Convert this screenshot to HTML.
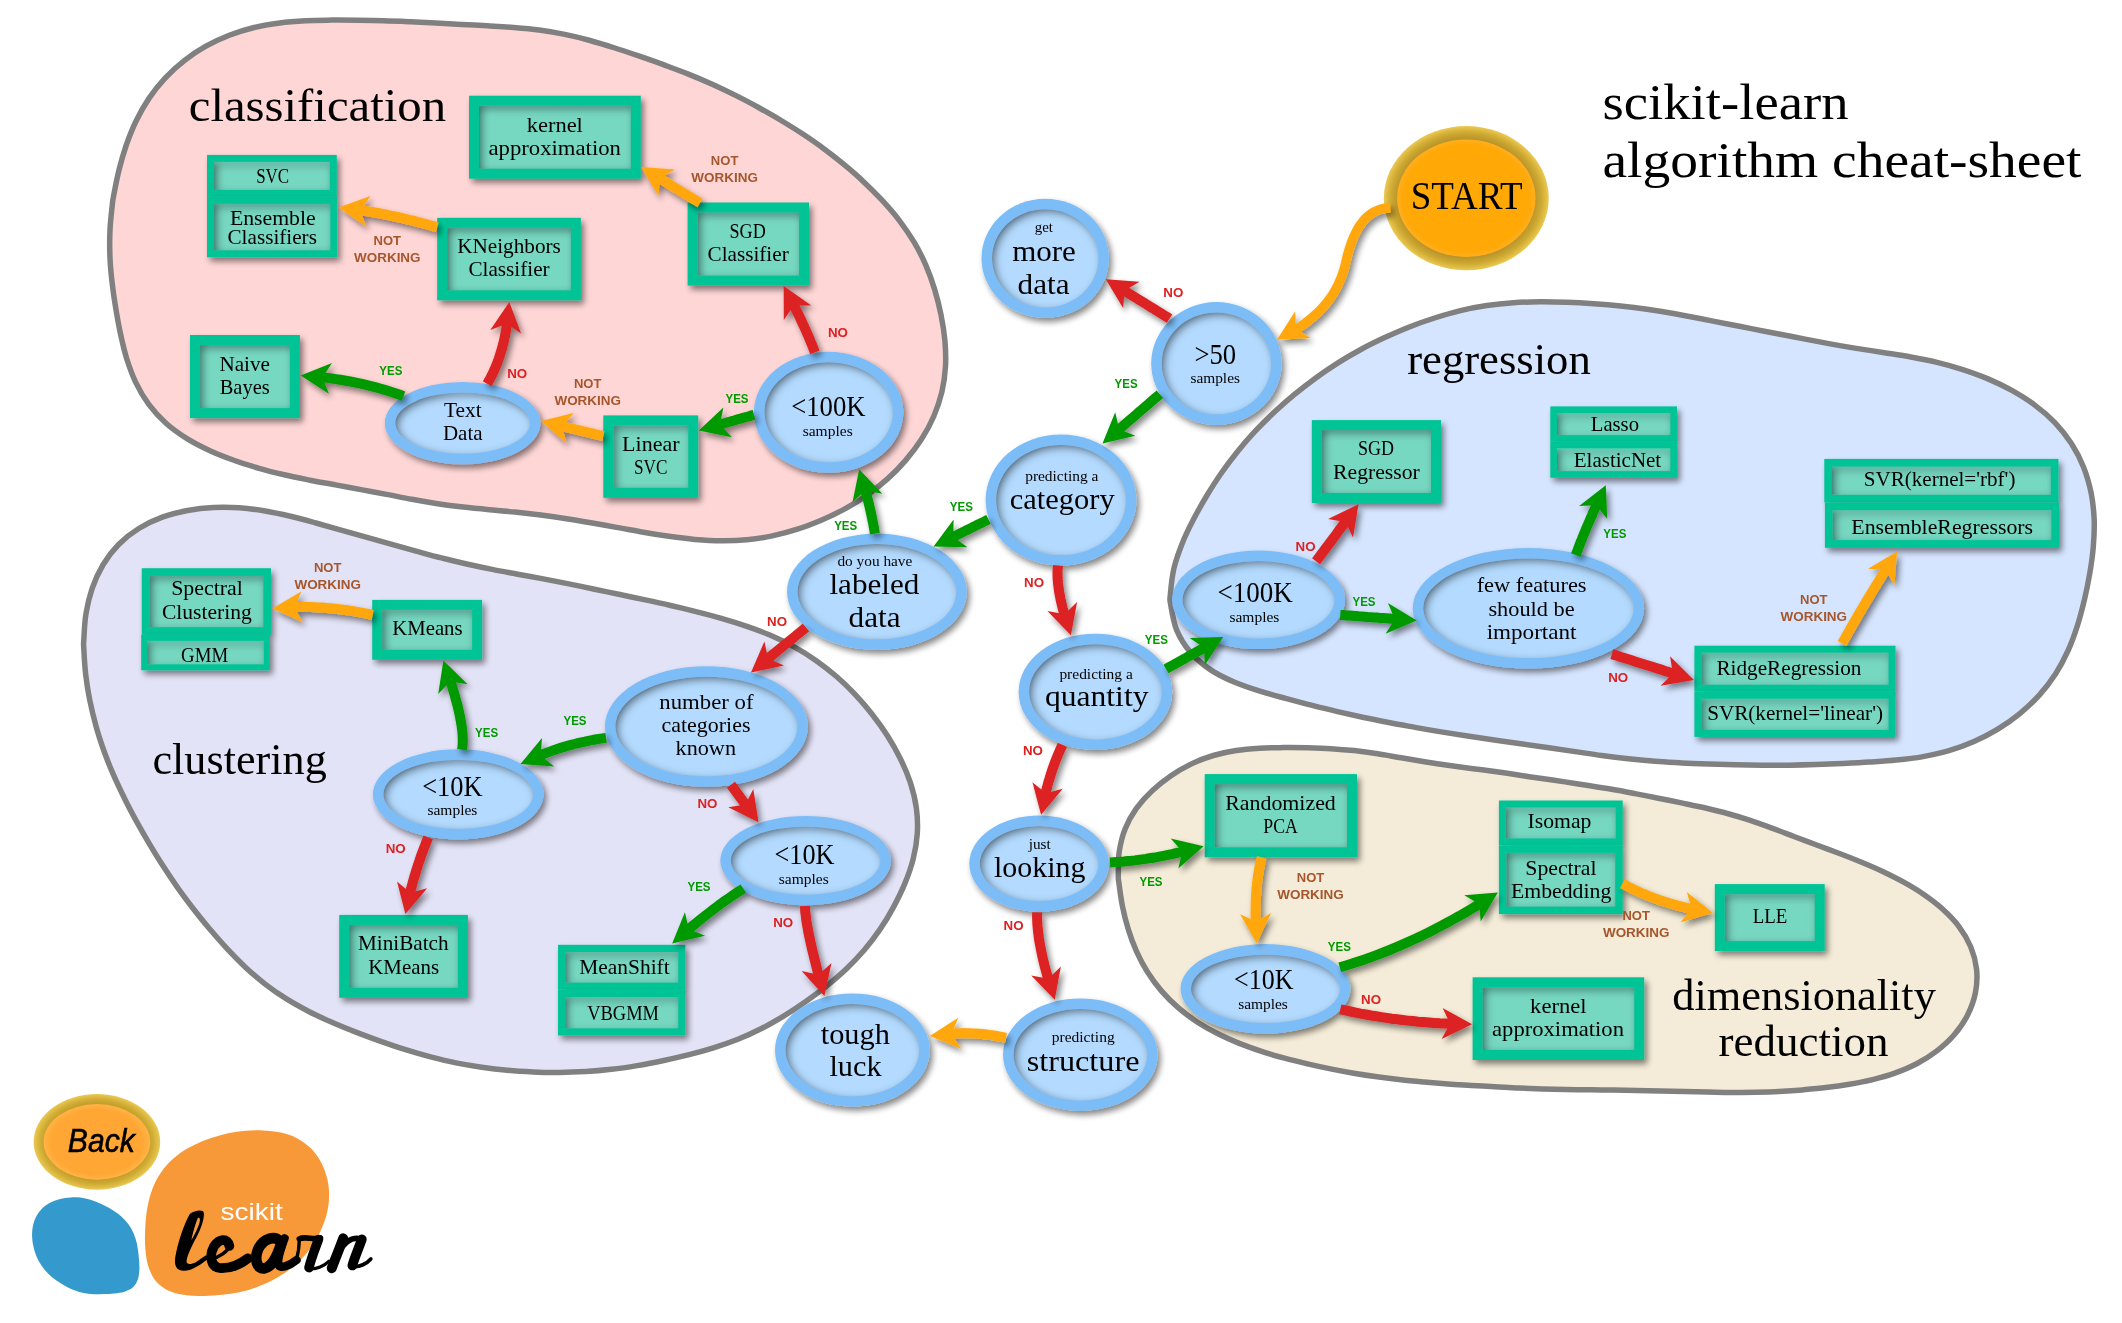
<!DOCTYPE html>
<html><head><meta charset="utf-8"><title>scikit-learn algorithm cheat-sheet</title>
<style>html,body{margin:0;padding:0;background:#fff}svg{display:block}text{white-space:pre}</style></head>
<body><svg width="2122" height="1323" viewBox="0 0 2122 1323">
<defs>
<filter id="ds" x="-20%" y="-20%" width="150%" height="150%"><feGaussianBlur in="SourceAlpha" stdDeviation="3.2"/><feOffset dx="3" dy="3.5" result="o"/><feComponentTransfer><feFuncA type="linear" slope="0.48"/></feComponentTransfer><feMerge><feMergeNode/><feMergeNode in="SourceGraphic"/></feMerge></filter>
<filter id="is" x="-10%" y="-10%" width="120%" height="120%"><feComponentTransfer in="SourceAlpha"><feFuncA type="table" tableValues="1 0"/></feComponentTransfer><feGaussianBlur stdDeviation="4.2"/><feOffset dx="2.5" dy="2.5" result="sh"/><feFlood flood-color="#001020" flood-opacity="0.85"/><feComposite in2="sh" operator="in"/><feComposite in2="SourceAlpha" operator="in" result="inner"/><feMerge><feMergeNode in="SourceGraphic"/><feMergeNode in="inner"/></feMerge></filter>
<radialGradient id="gg" cx="50%" cy="50%" r="50%"><stop offset="0.82" stop-color="#b8942a"/><stop offset="0.9" stop-color="#cba630"/><stop offset="0.97" stop-color="#e2be45"/><stop offset="1" stop-color="#ecca58"/></radialGradient>
<radialGradient id="og" cx="50%" cy="50%" r="50%"><stop offset="0" stop-color="#ffa806"/><stop offset="0.9" stop-color="#ffa806"/><stop offset="1" stop-color="#ffae1e"/></radialGradient>
<radialGradient id="gg2" cx="50%" cy="50%" r="50%"><stop offset="0.78" stop-color="#bf9a2c"/><stop offset="0.88" stop-color="#cfab33"/><stop offset="0.97" stop-color="#e3c048"/><stop offset="1" stop-color="#ecca58"/></radialGradient>
<radialGradient id="og2" cx="50%" cy="50%" r="50%"><stop offset="0" stop-color="#ffa634"/><stop offset="0.85" stop-color="#ffa634"/><stop offset="1" stop-color="#ffb445"/></radialGradient>
</defs>
<path d="M112.4,204.0 C111.8,209.7 110.4,221.2 110.0,229.8 C109.6,238.4 109.6,247.2 109.9,255.8 C110.2,264.4 111.0,273.1 112.0,281.7 C113.0,290.3 114.2,298.9 115.6,307.4 C117.0,315.9 118.5,324.5 120.3,332.9 C122.1,341.3 124.0,349.8 126.5,358.0 C129.1,366.2 131.9,374.4 135.6,382.1 C139.3,389.8 143.7,397.5 148.8,404.4 C153.9,411.3 159.9,417.8 166.3,423.5 C172.7,429.2 180.0,434.3 187.4,438.9 C194.8,443.5 202.7,447.4 210.5,451.0 C218.3,454.6 226.4,457.6 234.5,460.5 C242.6,463.4 250.8,465.9 259.1,468.3 C267.4,470.7 275.8,472.8 284.3,474.8 C292.8,476.8 301.4,478.5 309.9,480.2 C318.4,481.9 327.0,483.3 335.5,484.9 C344.0,486.5 352.5,488.0 361.0,489.6 C369.5,491.2 377.9,492.8 386.4,494.4 C394.9,496.0 403.4,497.8 411.9,499.3 C420.4,500.9 429.0,502.4 437.6,503.7 C446.2,505.0 454.9,506.1 463.5,507.1 C472.1,508.1 480.7,508.9 489.3,509.7 C497.9,510.5 506.4,511.2 515.0,512.1 C523.6,513.0 532.2,514.0 540.8,515.1 C549.4,516.2 558.0,517.4 566.6,518.7 C575.2,520.0 583.8,521.5 592.3,523.0 C600.8,524.5 609.4,526.1 617.9,527.6 C626.4,529.1 634.8,530.8 643.3,532.2 C651.8,533.7 660.4,535.1 669.0,536.3 C677.6,537.5 686.2,538.6 694.9,539.4 C703.5,540.1 712.2,540.7 720.9,540.8 C729.5,540.9 738.2,540.6 746.8,539.8 C755.4,539.0 763.9,537.7 772.3,535.9 C780.7,534.1 789.1,531.9 797.4,529.2 C805.6,526.6 813.8,523.4 821.8,520.0 C829.8,516.6 837.7,512.8 845.3,508.6 C852.9,504.4 860.3,499.8 867.3,494.9 C874.3,489.9 881.1,484.6 887.5,478.9 C893.9,473.1 900.0,467.0 905.6,460.4 C911.2,453.8 916.6,446.8 921.3,439.5 C926.0,432.2 930.3,424.4 933.7,416.5 C937.1,408.6 939.9,400.2 941.9,391.9 C943.9,383.5 945.0,375.0 945.5,366.4 C946.0,357.8 945.6,349.1 944.9,340.5 C944.1,331.9 942.7,323.2 941.0,314.7 C939.3,306.2 937.1,297.7 934.6,289.4 C932.1,281.1 929.2,273.0 925.8,265.1 C922.4,257.2 918.5,249.6 914.1,242.2 C909.7,234.8 904.8,227.7 899.6,220.8 C894.4,213.9 888.6,207.3 882.7,200.9 C876.8,194.5 870.6,188.4 864.3,182.4 C858.0,176.4 851.4,170.7 844.8,165.2 C838.2,159.7 831.4,154.3 824.5,149.2 C817.6,144.0 810.4,139.1 803.2,134.3 C796.0,129.5 788.6,125.0 781.2,120.5 C773.8,116.0 766.2,111.7 758.6,107.5 C751.0,103.3 743.3,99.3 735.6,95.4 C727.9,91.5 720.1,87.8 712.2,84.2 C704.3,80.7 696.3,77.3 688.3,74.1 C680.3,70.9 672.1,67.9 664.0,64.9 C655.9,61.9 647.6,59.0 639.4,56.2 C631.2,53.4 623.0,50.6 614.8,48.0 C606.6,45.4 598.3,42.8 590.0,40.5 C581.7,38.2 573.3,36.1 564.8,34.4 C556.3,32.6 547.8,31.2 539.2,30.0 C530.6,28.8 521.9,28.1 513.3,27.4 C504.6,26.7 495.9,26.3 487.3,25.8 C478.7,25.3 470.0,24.9 461.4,24.4 C452.8,23.9 444.1,23.4 435.5,23.0 C426.9,22.6 418.2,22.1 409.5,21.7 C400.8,21.3 392.2,20.9 383.5,20.7 C374.8,20.4 366.1,20.3 357.5,20.2 C348.9,20.1 340.2,20.0 331.6,20.1 C323.0,20.2 314.4,20.2 305.7,20.7 C297.0,21.2 288.3,21.8 279.7,22.9 C271.1,24.0 262.5,25.4 254.1,27.5 C245.7,29.6 237.3,32.1 229.3,35.2 C221.3,38.3 213.4,42.0 205.9,46.2 C198.4,50.4 191.1,55.3 184.3,60.6 C177.5,65.9 171.0,71.8 165.1,78.1 C159.2,84.4 153.8,91.2 149.0,98.4 C144.2,105.6 139.9,113.2 136.1,121.0 C132.3,128.8 129.2,136.8 126.3,145.0 C123.5,153.2 121.1,161.6 119.0,170.0 C116.9,178.4 114.8,189.7 113.7,195.4 C112.6,201.1 113.0,198.3 112.4,204.0 Z" fill="#ffd6d6" stroke="#808080" stroke-width="5.5" stroke-linejoin="round"/>
<path d="M83.8,640.1 C84.2,634.3 84.5,622.7 85.9,614.1 C87.3,605.5 89.3,596.9 92.1,588.7 C94.9,580.5 98.5,572.4 102.9,565.0 C107.3,557.6 112.6,550.6 118.6,544.5 C124.6,538.4 131.5,533.0 138.8,528.5 C146.1,524.0 154.2,520.2 162.3,517.2 C170.4,514.2 179.1,512.1 187.6,510.5 C196.1,508.9 205.0,507.9 213.6,507.5 C222.2,507.1 230.8,507.2 239.4,507.8 C248.0,508.4 256.6,509.6 265.1,511.0 C273.6,512.4 282.0,514.3 290.5,516.3 C299.0,518.3 307.5,520.7 315.9,523.0 C324.3,525.3 332.7,527.7 341.1,530.1 C349.5,532.5 357.8,534.9 366.1,537.2 C374.4,539.5 382.7,541.8 391.0,544.1 C399.3,546.4 407.6,548.8 416.0,551.1 C424.4,553.4 432.9,555.8 441.3,557.9 C449.8,560.0 458.2,562.1 466.7,564.0 C475.2,565.9 483.7,567.7 492.2,569.4 C500.7,571.1 509.1,572.6 517.6,574.2 C526.1,575.8 534.7,577.3 543.2,578.9 C551.7,580.5 560.2,582.2 568.8,583.9 C577.3,585.6 586.0,587.4 594.5,589.2 C603.0,591.0 611.4,592.7 619.9,594.5 C628.4,596.3 636.8,598.1 645.3,599.9 C653.8,601.7 662.1,603.5 670.6,605.5 C679.1,607.5 687.5,609.5 696.0,611.6 C704.5,613.7 712.9,615.9 721.3,618.3 C729.7,620.7 738.0,623.3 746.2,626.1 C754.4,628.9 762.5,631.9 770.4,635.3 C778.3,638.7 786.1,642.4 793.7,646.6 C801.3,650.8 808.8,655.4 815.9,660.4 C823.0,665.4 829.9,670.8 836.5,676.5 C843.1,682.2 849.4,688.3 855.3,694.6 C861.2,700.9 866.8,707.4 872.1,714.2 C877.4,721.0 882.5,728.0 887.1,735.3 C891.8,742.6 896.1,750.2 900.0,758.0 C903.9,765.8 907.5,773.9 910.2,782.2 C912.9,790.5 915.1,799.1 916.3,807.6 C917.5,816.1 917.8,824.9 917.3,833.4 C916.8,841.9 915.3,850.5 913.2,858.8 C911.1,867.1 908.2,875.3 904.9,883.4 C901.6,891.5 897.6,899.4 893.5,907.1 C889.4,914.8 884.9,922.2 880.0,929.4 C875.1,936.5 869.9,943.5 864.3,950.0 C858.7,956.5 852.8,962.7 846.5,968.7 C840.2,974.7 833.6,980.3 826.8,985.8 C820.0,991.2 812.9,996.4 805.8,1001.4 C798.7,1006.4 791.4,1011.3 784.0,1015.8 C776.6,1020.3 769.2,1024.6 761.5,1028.5 C753.8,1032.4 745.9,1036.1 737.9,1039.3 C729.9,1042.5 721.7,1045.3 713.4,1047.9 C705.1,1050.5 696.7,1052.8 688.2,1054.9 C679.8,1057.0 671.2,1058.9 662.7,1060.7 C654.2,1062.5 645.7,1064.2 637.2,1065.6 C628.7,1067.0 620.1,1068.3 611.5,1069.3 C602.9,1070.3 594.3,1071.1 585.6,1071.6 C576.9,1072.1 568.2,1072.4 559.5,1072.4 C550.8,1072.5 542.1,1072.3 533.4,1071.9 C524.7,1071.5 516.0,1071.0 507.4,1070.2 C498.8,1069.4 490.3,1068.4 481.7,1067.2 C473.1,1066.0 464.5,1064.6 456.0,1062.9 C447.5,1061.2 439.0,1059.1 430.6,1056.9 C422.2,1054.7 413.8,1052.3 405.5,1049.7 C397.2,1047.1 389.0,1044.3 380.8,1041.4 C372.6,1038.5 364.6,1035.5 356.5,1032.4 C348.4,1029.3 340.3,1026.1 332.4,1022.6 C324.4,1019.1 316.5,1015.5 308.8,1011.5 C301.1,1007.5 293.4,1003.3 286.1,998.7 C278.8,994.1 271.6,989.1 264.8,983.8 C258.0,978.5 251.4,972.8 245.1,966.9 C238.8,961.0 232.7,954.8 226.8,948.4 C220.9,942.0 215.1,935.4 209.5,928.8 C203.9,922.1 198.4,915.4 193.1,908.5 C187.8,901.6 182.6,894.7 177.6,887.6 C172.6,880.5 167.8,873.4 163.1,866.1 C158.4,858.8 153.8,851.4 149.4,843.9 C145.0,836.4 140.7,828.9 136.5,821.3 C132.3,813.7 128.2,806.0 124.4,798.2 C120.6,790.4 116.8,782.7 113.4,774.7 C110.0,766.8 106.7,758.7 103.8,750.5 C100.9,742.3 98.2,734.1 95.9,725.7 C93.6,717.3 91.5,708.8 89.8,700.3 C88.1,691.8 86.7,683.2 85.7,674.6 C84.7,666.0 84.1,654.5 83.8,648.7 C83.5,643.0 83.4,645.9 83.8,640.1 Z" fill="#e3e3f7" stroke="#808080" stroke-width="5.5" stroke-linejoin="round"/>
<path d="M1170.3,595.2 C1170.8,589.3 1171.9,577.2 1173.9,568.5 C1175.9,559.8 1179.1,551.2 1182.4,542.9 C1185.7,534.6 1189.7,526.7 1193.8,518.8 C1197.9,510.9 1202.3,503.1 1206.9,495.5 C1211.5,487.9 1216.3,480.3 1221.4,473.0 C1226.5,465.7 1232.0,458.5 1237.6,451.5 C1243.2,444.5 1249.1,437.7 1255.2,431.2 C1261.3,424.7 1267.7,418.4 1274.2,412.3 C1280.7,406.2 1287.3,400.4 1294.2,394.7 C1301.1,389.0 1308.2,383.5 1315.4,378.2 C1322.6,372.9 1330.0,367.9 1337.6,363.1 C1345.2,358.3 1352.9,353.8 1360.8,349.5 C1368.7,345.2 1376.6,341.4 1384.7,337.6 C1392.8,333.9 1401.0,330.3 1409.3,327.0 C1417.6,323.7 1426.1,320.7 1434.6,318.0 C1443.1,315.3 1451.7,312.7 1460.4,310.6 C1469.1,308.5 1478.0,306.8 1486.8,305.5 C1495.6,304.2 1504.5,303.3 1513.4,302.7 C1522.3,302.1 1531.2,301.9 1540.1,301.8 C1549.0,301.7 1558.0,302.0 1566.9,302.3 C1575.9,302.6 1584.9,303.1 1593.8,303.7 C1602.7,304.3 1611.6,305.0 1620.5,305.9 C1629.4,306.8 1638.3,307.9 1647.1,309.2 C1655.9,310.5 1664.7,311.9 1673.5,313.5 C1682.3,315.1 1691.0,316.8 1699.8,318.5 C1708.6,320.2 1717.4,322.0 1726.2,323.7 C1735.0,325.4 1743.7,327.2 1752.5,328.9 C1761.3,330.6 1770.0,332.3 1778.8,334.0 C1787.6,335.7 1796.3,337.4 1805.1,339.1 C1813.9,340.8 1822.6,342.5 1831.4,344.1 C1840.2,345.7 1849.1,347.2 1857.9,348.6 C1866.7,350.0 1875.6,351.3 1884.4,352.7 C1893.2,354.1 1902.1,355.4 1910.9,357.0 C1919.7,358.6 1928.4,360.3 1937.1,362.4 C1945.8,364.5 1954.3,366.9 1962.8,369.6 C1971.3,372.4 1979.8,375.4 1988.0,378.9 C1996.2,382.4 2004.5,386.3 2012.3,390.7 C2020.1,395.1 2027.7,399.8 2034.8,405.1 C2041.9,410.4 2048.8,416.2 2054.9,422.6 C2061.0,429.0 2066.6,436.1 2071.4,443.6 C2076.2,451.1 2080.4,459.1 2083.7,467.4 C2087.0,475.7 2089.4,484.5 2091.2,493.3 C2092.9,502.1 2093.8,511.1 2094.2,520.0 C2094.5,528.9 2094.0,537.8 2093.3,546.6 C2092.6,555.5 2091.3,564.3 2089.8,573.1 C2088.3,581.9 2086.6,590.7 2084.5,599.4 C2082.4,608.1 2080.2,616.9 2077.5,625.4 C2074.8,633.9 2071.8,642.4 2068.1,650.5 C2064.4,658.6 2060.3,666.5 2055.5,673.9 C2050.7,681.3 2045.2,688.5 2039.3,695.1 C2033.3,701.7 2026.7,707.9 2019.8,713.6 C2012.9,719.3 2005.4,724.5 1997.8,729.2 C1990.2,733.9 1982.1,738.0 1974.0,741.6 C1965.9,745.2 1957.5,748.2 1949.0,750.7 C1940.5,753.2 1931.8,755.0 1923.0,756.6 C1914.2,758.2 1905.2,759.2 1896.3,760.1 C1887.4,761.0 1878.4,761.5 1869.4,762.1 C1860.5,762.7 1851.5,763.1 1842.6,763.5 C1833.7,763.9 1824.9,764.3 1816.0,764.6 C1807.1,764.9 1798.1,765.1 1789.2,765.2 C1780.3,765.3 1771.4,765.3 1762.4,765.2 C1753.4,765.1 1744.4,764.9 1735.4,764.7 C1726.4,764.5 1717.5,764.3 1708.6,764.0 C1699.7,763.7 1690.8,763.4 1681.9,762.9 C1673.0,762.4 1664.1,762.0 1655.2,761.3 C1646.3,760.6 1637.4,759.8 1628.5,758.8 C1619.6,757.8 1610.7,756.7 1601.8,755.5 C1592.9,754.3 1584.1,752.9 1575.3,751.6 C1566.5,750.3 1557.7,749.0 1548.9,747.7 C1540.1,746.4 1531.3,745.2 1522.5,744.0 C1513.7,742.8 1504.8,741.6 1495.9,740.3 C1487.0,739.0 1478.1,737.7 1469.2,736.3 C1460.3,734.9 1451.5,733.5 1442.7,732.1 C1433.9,730.7 1425.2,729.2 1416.4,727.6 C1407.6,726.0 1398.9,724.5 1390.1,722.8 C1381.3,721.1 1372.6,719.4 1363.8,717.5 C1355.0,715.6 1346.2,713.6 1337.4,711.6 C1328.7,709.6 1319.9,707.4 1311.3,705.2 C1302.7,703.0 1294.1,700.7 1285.6,698.4 C1277.0,696.1 1268.5,693.9 1260.0,691.2 C1251.5,688.5 1242.9,685.8 1234.7,682.3 C1226.5,678.8 1218.1,674.9 1210.7,669.9 C1203.3,664.9 1196.2,659.1 1190.5,652.4 C1184.8,645.7 1179.9,637.9 1176.6,629.9 C1173.3,621.9 1171.6,609.9 1170.6,604.1 C1169.5,598.3 1169.8,601.1 1170.3,595.2 Z" fill="#d6e5ff" stroke="#808080" stroke-width="5.5" stroke-linejoin="round"/>
<path d="M1118.3,874.8 C1118.4,869.5 1118.1,858.9 1119.3,851.2 C1120.5,843.5 1122.3,835.8 1125.2,828.7 C1128.1,821.6 1131.9,814.7 1136.4,808.4 C1140.9,802.1 1146.4,796.1 1152.2,790.7 C1158.0,785.3 1164.5,780.3 1171.0,775.8 C1177.5,771.3 1184.5,767.3 1191.5,763.9 C1198.5,760.5 1205.9,757.7 1213.3,755.5 C1220.7,753.3 1228.4,751.7 1236.1,750.5 C1243.8,749.3 1251.8,748.7 1259.7,748.2 C1267.6,747.7 1275.7,747.7 1283.6,747.6 C1291.5,747.5 1299.4,747.6 1307.3,747.8 C1315.2,748.0 1323.0,748.2 1330.8,748.7 C1338.6,749.2 1346.4,749.8 1354.2,750.6 C1362.0,751.5 1369.9,752.6 1377.7,753.8 C1385.5,755.0 1393.4,756.5 1401.2,757.8 C1409.0,759.1 1416.8,760.5 1424.6,761.8 C1432.4,763.0 1440.1,764.2 1447.9,765.3 C1455.7,766.4 1463.4,767.4 1471.2,768.4 C1479.0,769.4 1486.9,770.4 1494.7,771.5 C1502.5,772.6 1510.4,773.8 1518.2,775.0 C1526.0,776.2 1533.9,777.4 1541.7,778.5 C1549.5,779.6 1557.2,780.7 1565.0,781.9 C1572.8,783.1 1580.5,784.3 1588.3,785.5 C1596.1,786.7 1603.9,787.9 1611.7,789.3 C1619.5,790.6 1627.2,792.1 1635.0,793.6 C1642.8,795.1 1650.5,796.7 1658.3,798.2 C1666.0,799.8 1673.8,801.3 1681.5,802.9 C1689.2,804.5 1696.8,806.0 1704.5,807.8 C1712.2,809.6 1719.8,811.4 1727.4,813.5 C1735.0,815.6 1742.7,817.9 1750.2,820.4 C1757.7,822.9 1765.1,825.6 1772.5,828.3 C1779.9,831.0 1787.2,833.9 1794.6,836.7 C1802.0,839.5 1809.3,842.2 1816.7,845.0 C1824.1,847.8 1831.4,850.5 1838.8,853.3 C1846.2,856.1 1853.6,859.0 1860.9,862.0 C1868.2,865.0 1875.6,868.1 1882.7,871.5 C1889.8,874.9 1896.9,878.4 1903.7,882.2 C1910.5,886.0 1917.3,890.0 1923.8,894.5 C1930.3,899.0 1936.7,903.7 1942.5,909.0 C1948.3,914.3 1954.1,920.0 1958.8,926.3 C1963.5,932.6 1967.7,939.5 1970.7,946.7 C1973.7,953.9 1975.8,961.7 1976.6,969.4 C1977.4,977.1 1976.9,985.3 1975.4,992.9 C1973.9,1000.5 1971.0,1008.2 1967.5,1015.2 C1964.0,1022.2 1959.3,1028.8 1954.2,1034.8 C1949.1,1040.8 1943.1,1046.1 1936.9,1050.9 C1930.7,1055.7 1924.0,1059.8 1917.1,1063.5 C1910.2,1067.2 1902.8,1070.2 1895.4,1072.9 C1888.0,1075.6 1880.3,1077.7 1872.6,1079.6 C1864.9,1081.5 1857.2,1082.9 1849.4,1084.2 C1841.6,1085.5 1833.8,1086.6 1826.0,1087.6 C1818.2,1088.5 1810.3,1089.2 1802.5,1089.9 C1794.7,1090.6 1786.8,1091.1 1778.9,1091.5 C1771.0,1091.9 1763.1,1092.1 1755.2,1092.3 C1747.3,1092.5 1739.4,1092.4 1731.5,1092.4 C1723.6,1092.4 1715.8,1092.2 1707.9,1092.1 C1700.0,1091.9 1692.2,1091.7 1684.3,1091.5 C1676.4,1091.3 1668.5,1091.2 1660.6,1091.0 C1652.7,1090.8 1644.8,1090.7 1636.9,1090.5 C1629.0,1090.3 1621.1,1090.2 1613.2,1090.1 C1605.3,1090.0 1597.5,1089.9 1589.6,1089.8 C1581.7,1089.7 1573.9,1089.7 1566.0,1089.5 C1558.1,1089.3 1550.3,1089.1 1542.4,1088.9 C1534.5,1088.7 1526.5,1088.4 1518.6,1088.1 C1510.7,1087.8 1502.8,1087.2 1494.9,1086.8 C1487.0,1086.3 1479.2,1085.9 1471.3,1085.4 C1463.4,1084.9 1455.6,1084.5 1447.8,1083.9 C1440.0,1083.4 1432.1,1082.8 1424.3,1082.1 C1416.5,1081.4 1408.6,1080.7 1400.7,1079.8 C1392.8,1078.9 1384.9,1077.9 1377.1,1076.8 C1369.3,1075.7 1361.5,1074.5 1353.7,1073.2 C1346.0,1071.9 1338.3,1070.5 1330.6,1068.9 C1322.9,1067.4 1315.2,1065.7 1307.5,1063.9 C1299.8,1062.1 1292.2,1060.3 1284.5,1058.2 C1276.8,1056.1 1269.1,1053.9 1261.6,1051.4 C1254.1,1048.9 1246.6,1046.3 1239.3,1043.4 C1232.0,1040.5 1224.9,1037.3 1217.9,1033.8 C1210.9,1030.3 1204.1,1026.5 1197.5,1022.2 C1190.9,1017.9 1184.5,1013.1 1178.5,1007.9 C1172.5,1002.7 1166.8,997.1 1161.6,991.1 C1156.4,985.1 1151.7,978.6 1147.5,972.0 C1143.3,965.4 1139.7,958.4 1136.5,951.3 C1133.3,944.2 1130.6,936.9 1128.3,929.4 C1126.0,921.9 1124.1,914.3 1122.5,906.5 C1120.9,898.7 1119.6,888.1 1118.9,882.8 C1118.2,877.5 1118.2,880.1 1118.3,874.8 Z" fill="#f4ecd8" stroke="#808080" stroke-width="5.5" stroke-linejoin="round"/>
<rect x="469" y="95.7" width="171.8" height="83.0" fill="#00c496" filter="url(#ds)"/><rect x="479" y="105.7" width="151.8" height="63.0" fill="#77d8c1" filter="url(#is)"/>
<rect x="207" y="154.9" width="129.8" height="42.0" fill="#00c496" filter="url(#ds)"/><rect x="214" y="161.9" width="115.80000000000001" height="28.0" fill="#77d8c1" filter="url(#is)"/>
<rect x="207" y="196.9" width="130.3" height="60.4" fill="#00c496" filter="url(#ds)"/><rect x="214" y="203.9" width="116.30000000000001" height="46.4" fill="#77d8c1" filter="url(#is)"/>
<rect x="437.2" y="217.8" width="143.7" height="82.5" fill="#00c496" filter="url(#ds)"/><rect x="447.2" y="227.8" width="123.69999999999999" height="62.5" fill="#77d8c1" filter="url(#is)"/>
<rect x="687.6" y="202.5" width="121.4" height="83.1" fill="#00c496" filter="url(#ds)"/><rect x="697.6" y="212.5" width="101.4" height="63.099999999999994" fill="#77d8c1" filter="url(#is)"/>
<rect x="190" y="335" width="109.9" height="83.1" fill="#00c496" filter="url(#ds)"/><rect x="200" y="345" width="89.9" height="63.099999999999994" fill="#77d8c1" filter="url(#is)"/>
<rect x="603.3" y="415.4" width="94.9" height="82.4" fill="#00c496" filter="url(#ds)"/><rect x="613.3" y="425.4" width="74.9" height="62.400000000000006" fill="#77d8c1" filter="url(#is)"/>
<ellipse cx="462.6" cy="423.1" rx="77.8" ry="41.2" fill="#7dbdf7" filter="url(#ds)"/><ellipse cx="462.6" cy="423.1" rx="67.3" ry="30.700000000000003" fill="#b4dbff" filter="url(#is)"/>
<ellipse cx="828.6" cy="412.3" rx="74.7" ry="60.5" fill="#7dbdf7" filter="url(#ds)"/><ellipse cx="828.6" cy="412.3" rx="64.2" ry="50.0" fill="#b4dbff" filter="url(#is)"/>
<ellipse cx="876.9" cy="591.7" rx="89.9" ry="58.1" fill="#7dbdf7" filter="url(#ds)"/><ellipse cx="876.9" cy="591.7" rx="79.4" ry="47.6" fill="#b4dbff" filter="url(#is)"/>
<ellipse cx="1045.2" cy="258.3" rx="63.7" ry="59.6" fill="#7dbdf7" filter="url(#ds)"/><ellipse cx="1045.2" cy="258.3" rx="53.2" ry="49.1" fill="#b4dbff" filter="url(#is)"/>
<ellipse cx="1216.4" cy="363.4" rx="65.2" ry="61.4" fill="#7dbdf7" filter="url(#ds)"/><ellipse cx="1216.4" cy="363.4" rx="54.7" ry="50.9" fill="#b4dbff" filter="url(#is)"/>
<ellipse cx="1061" cy="500" rx="75.4" ry="65.6" fill="#7dbdf7" filter="url(#ds)"/><ellipse cx="1061" cy="500" rx="64.9" ry="55.099999999999994" fill="#b4dbff" filter="url(#is)"/>
<ellipse cx="1095.4" cy="691.8" rx="76.8" ry="58.1" fill="#7dbdf7" filter="url(#ds)"/><ellipse cx="1095.4" cy="691.8" rx="66.3" ry="47.6" fill="#b4dbff" filter="url(#is)"/>
<ellipse cx="1039.1" cy="863.6" rx="69.8" ry="48" fill="#7dbdf7" filter="url(#ds)"/><ellipse cx="1039.1" cy="863.6" rx="59.3" ry="37.5" fill="#b4dbff" filter="url(#is)"/>
<ellipse cx="1080.3" cy="1054.7" rx="77.3" ry="56.2" fill="#7dbdf7" filter="url(#ds)"/><ellipse cx="1080.3" cy="1054.7" rx="66.8" ry="45.7" fill="#b4dbff" filter="url(#is)"/>
<ellipse cx="852.4" cy="1050.1" rx="77.4" ry="56.6" fill="#7dbdf7" filter="url(#ds)"/><ellipse cx="852.4" cy="1050.1" rx="66.9" ry="46.1" fill="#b4dbff" filter="url(#is)"/>
<rect x="141.7" y="568.2" width="129.3" height="66.7" fill="#00c496" filter="url(#ds)"/><rect x="149.39999999999998" y="575.9000000000001" width="113.9" height="51.300000000000004" fill="#77d8c1" filter="url(#is)"/>
<rect x="141.2" y="634.9" width="128.6" height="35.4" fill="#00c496" filter="url(#ds)"/><rect x="147.2" y="640.9" width="116.6" height="23.4" fill="#77d8c1" filter="url(#is)"/>
<rect x="372.2" y="599.9" width="109.9" height="59.9" fill="#00c496" filter="url(#ds)"/><rect x="382.2" y="609.9" width="89.9" height="39.9" fill="#77d8c1" filter="url(#is)"/>
<ellipse cx="706.4" cy="726.5" rx="101.5" ry="60.3" fill="#7dbdf7" filter="url(#ds)"/><ellipse cx="706.4" cy="726.5" rx="91.0" ry="49.8" fill="#b4dbff" filter="url(#is)"/>
<ellipse cx="458.2" cy="794.3" rx="85.3" ry="45.1" fill="#7dbdf7" filter="url(#ds)"/><ellipse cx="458.2" cy="794.3" rx="74.8" ry="34.6" fill="#b4dbff" filter="url(#is)"/>
<ellipse cx="805.6" cy="860.6" rx="85.3" ry="44.6" fill="#7dbdf7" filter="url(#ds)"/><ellipse cx="805.6" cy="860.6" rx="74.8" ry="34.1" fill="#b4dbff" filter="url(#is)"/>
<rect x="339.2" y="914.9" width="128.7" height="82.9" fill="#00c496" filter="url(#ds)"/><rect x="349.2" y="924.9" width="108.69999999999999" height="62.900000000000006" fill="#77d8c1" filter="url(#is)"/>
<rect x="558" y="944.8" width="127.4" height="45.0" fill="#00c496" filter="url(#ds)"/><rect x="565.2" y="952.0" width="113.0" height="30.6" fill="#77d8c1" filter="url(#is)"/>
<rect x="558" y="989.8" width="127.4" height="45.7" fill="#00c496" filter="url(#ds)"/><rect x="565.2" y="997.0" width="113.0" height="31.300000000000004" fill="#77d8c1" filter="url(#is)"/>
<rect x="1311.8" y="420.1" width="129.2" height="82.9" fill="#00c496" filter="url(#ds)"/><rect x="1321.8" y="430.1" width="109.19999999999999" height="62.900000000000006" fill="#77d8c1" filter="url(#is)"/>
<rect x="1550.3" y="406.4" width="126.7" height="35.4" fill="#00c496" filter="url(#ds)"/><rect x="1557.0" y="413.09999999999997" width="113.3" height="22.0" fill="#77d8c1" filter="url(#is)"/>
<rect x="1550.3" y="441.8" width="126.7" height="36.0" fill="#00c496" filter="url(#ds)"/><rect x="1557.0" y="448.5" width="113.3" height="22.6" fill="#77d8c1" filter="url(#is)"/>
<rect x="1824.3" y="458.9" width="234.2" height="43.6" fill="#00c496" filter="url(#ds)"/><rect x="1832.0" y="466.59999999999997" width="218.79999999999998" height="28.200000000000003" fill="#77d8c1" filter="url(#is)"/>
<rect x="1824.9" y="502.5" width="234.1" height="45.3" fill="#00c496" filter="url(#ds)"/><rect x="1832.6000000000001" y="510.2" width="218.7" height="29.9" fill="#77d8c1" filter="url(#is)"/>
<ellipse cx="1258.5" cy="599.8" rx="86.5" ry="49.3" fill="#7dbdf7" filter="url(#ds)"/><ellipse cx="1258.5" cy="599.8" rx="76.0" ry="38.8" fill="#b4dbff" filter="url(#is)"/>
<ellipse cx="1528.4" cy="608.3" rx="115.7" ry="60.3" fill="#7dbdf7" filter="url(#ds)"/><ellipse cx="1528.4" cy="608.3" rx="105.2" ry="49.8" fill="#b4dbff" filter="url(#is)"/>
<rect x="1694.4" y="645.7" width="201.1" height="46.0" fill="#00c496" filter="url(#ds)"/><rect x="1701.4" y="652.7" width="187.1" height="32.0" fill="#77d8c1" filter="url(#is)"/>
<rect x="1694.4" y="691.7" width="201.1" height="45.2" fill="#00c496" filter="url(#ds)"/><rect x="1701.4" y="698.7" width="187.1" height="31.200000000000003" fill="#77d8c1" filter="url(#is)"/>
<rect x="1204.7" y="774.1" width="152.3" height="83.2" fill="#00c496" filter="url(#ds)"/><rect x="1214.7" y="784.1" width="132.3" height="63.2" fill="#77d8c1" filter="url(#is)"/>
<rect x="1498.9" y="800.5" width="123.8" height="44.9" fill="#00c496" filter="url(#ds)"/><rect x="1505.9" y="807.5" width="109.8" height="30.9" fill="#77d8c1" filter="url(#is)"/>
<rect x="1498.9" y="845.4" width="123.8" height="68.7" fill="#00c496" filter="url(#ds)"/><rect x="1506.4" y="852.9" width="108.8" height="53.7" fill="#77d8c1" filter="url(#is)"/>
<rect x="1714.8" y="884.1" width="109.9" height="67.0" fill="#00c496" filter="url(#ds)"/><rect x="1724.8" y="894.1" width="89.9" height="47.0" fill="#77d8c1" filter="url(#is)"/>
<rect x="1472.6" y="977.3" width="171.6" height="82.7" fill="#00c496" filter="url(#ds)"/><rect x="1482.6" y="987.3" width="151.6" height="62.7" fill="#77d8c1" filter="url(#is)"/>
<ellipse cx="1265.5" cy="988.8" rx="85" ry="44.7" fill="#7dbdf7" filter="url(#ds)"/><ellipse cx="1265.5" cy="988.8" rx="74.5" ry="34.2" fill="#b4dbff" filter="url(#is)"/>
<ellipse cx="1466.3" cy="198.2" rx="82.5" ry="72.1" fill="url(#gg)"/><ellipse cx="1466.3" cy="198.2" rx="69.2" ry="58.8" fill="url(#og)"/>
<ellipse cx="96.9" cy="1141.9" rx="63.3" ry="47.8" fill="url(#gg2)"/><ellipse cx="96.9" cy="1141.9" rx="53.3" ry="37.8" fill="url(#og2)"/>
<g filter="url(#ds)">
<path d="M700.0,203.0 L697.6,201.6 L695.3,200.1 L692.9,198.7 L690.6,197.2 L688.2,195.8 L685.8,194.4 L683.5,192.9 L681.1,191.5 L678.8,190.0 L676.4,188.6 L674.0,187.2 L671.7,185.7 L669.3,184.3 L667.0,182.8 L664.6,181.4 L662.2,180.0 L659.9,178.5 L658.1,177.4" fill="none" stroke="#ffa70f" stroke-width="10"/><path d="M641.0,167.0 L674.7,169.4 L659.8,178.5 L658.5,195.9 Z" fill="#ffa70f"/>
<path d="M437.2,227.3 L433.2,226.1 L429.1,225.0 L425.1,223.9 L421.1,222.8 L417.1,221.8 L413.1,220.7 L409.1,219.8 L405.1,218.8 L401.2,217.9 L397.2,217.0 L393.2,216.1 L389.3,215.3 L385.3,214.5 L381.4,213.7 L377.5,213.0 L373.5,212.3 L369.6,211.6 L365.7,211.0 L361.8,210.4 L358.9,210.0" fill="none" stroke="#ffa70f" stroke-width="10"/><path d="M338.6,207.4 L370.4,196.1 L360.4,210.4 L366.2,226.8 Z" fill="#ffa70f"/>
<path d="M487.2,383.7 L488.7,381.1 L490.1,378.5 L491.5,375.9 L492.9,373.1 L494.1,370.3 L495.4,367.5 L496.6,364.6 L497.7,361.6 L498.8,358.6 L499.8,355.5 L500.8,352.3 L501.8,349.1 L502.6,345.9 L503.5,342.5 L504.3,339.1 L505.0,335.7 L505.7,332.2 L506.3,328.6 L506.9,325.0 L507.3,322.2" fill="none" stroke="#dc2121" stroke-width="10"/><path d="M509.3,302.0 L521.1,333.6 L506.7,323.8 L490.3,329.9 Z" fill="#dc2121"/>
<path d="M403.5,396.2 L399.8,394.8 L396.1,393.5 L392.3,392.3 L388.5,391.0 L384.7,389.9 L380.8,388.7 L376.9,387.6 L373.0,386.6 L369.0,385.6 L365.0,384.6 L360.9,383.7 L356.9,382.8 L352.7,382.0 L348.6,381.2 L344.4,380.5 L340.2,379.8 L335.9,379.1 L331.6,378.5 L327.3,377.9 L322.9,377.4 L320.7,377.1" fill="none" stroke="#009a00" stroke-width="10"/><path d="M300.6,375.4 L332.0,362.9 L322.5,377.5 L328.9,393.8 Z" fill="#009a00"/>
<path d="M603.3,436.1 L600.8,435.5 L598.3,434.9 L595.8,434.3 L593.3,433.7 L590.8,433.1 L588.3,432.5 L585.8,431.9 L583.3,431.3 L580.8,430.7 L578.3,430.1 L575.8,429.5 L573.3,428.9 L570.9,428.3 L568.4,427.7 L565.9,427.1 L563.4,426.5 L560.9,425.9 L560.9,425.9" fill="none" stroke="#ffa70f" stroke-width="10"/><path d="M540.9,421.1 L573.7,413.0 L562.3,426.2 L566.4,443.2 Z" fill="#ffa70f"/>
<path d="M754.0,414.8 L751.8,415.4 L749.6,416.1 L747.4,416.7 L745.2,417.3 L743.0,417.9 L740.8,418.6 L738.5,419.2 L736.3,419.8 L734.1,420.5 L731.9,421.1 L729.7,421.7 L727.5,422.3 L725.3,423.0 L723.1,423.6 L720.9,424.2 L718.7,424.8 L718.1,425.0" fill="none" stroke="#009a00" stroke-width="10"/><path d="M698.8,430.5 L723.4,407.4 L720.0,424.5 L731.9,437.2 Z" fill="#009a00"/>
<path d="M814.9,352.3 L813.9,349.8 L812.9,347.2 L811.9,344.7 L810.8,342.1 L809.7,339.5 L808.7,336.9 L807.5,334.3 L806.4,331.7 L805.2,329.1 L804.1,326.5 L802.8,323.9 L801.6,321.2 L800.4,318.6 L799.1,315.9 L797.8,313.3 L796.5,310.6 L795.2,307.9 L793.8,305.2 L793.1,303.9" fill="none" stroke="#dc2121" stroke-width="10"/><path d="M783.7,286.1 L811.3,305.6 L793.8,305.6 L783.8,319.9 Z" fill="#dc2121"/>
<path d="M874.9,533.6 L874.5,531.2 L874.1,528.7 L873.6,526.3 L873.2,523.8 L872.7,521.4 L872.2,518.9 L871.7,516.4 L871.1,513.9 L870.6,511.3 L870.0,508.8 L869.4,506.2 L868.8,503.7 L868.2,501.1 L867.5,498.5 L866.9,495.9 L866.2,493.3 L865.5,490.7 L864.9,488.7" fill="none" stroke="#009a00" stroke-width="10"/><path d="M859.2,469.2 L882.3,493.8 L865.2,490.4 L852.5,502.3 Z" fill="#009a00"/>
<path d="M988.5,519.4 L986.3,520.5 L984.1,521.6 L981.9,522.7 L979.7,523.8 L977.5,524.8 L975.3,525.9 L973.1,527.0 L970.9,528.1 L968.7,529.2 L966.5,530.3 L964.3,531.4 L962.1,532.5 L960.0,533.5 L957.8,534.6 L955.6,535.7 L953.4,536.8 L951.7,537.6" fill="none" stroke="#009a00" stroke-width="10"/><path d="M933.6,546.6 L953.6,519.4 L953.3,536.8 L967.4,547.2 Z" fill="#009a00"/>
<path d="M805.9,627.5 L803.7,629.3 L801.5,631.1 L799.3,632.9 L797.1,634.7 L794.9,636.5 L792.7,638.3 L790.5,640.1 L788.3,641.9 L786.1,643.7 L783.9,645.5 L781.7,647.3 L779.5,649.1 L777.4,650.8 L775.2,652.6 L773.0,654.4 L770.8,656.2 L768.6,658.0 L766.9,659.4" fill="none" stroke="#dc2121" stroke-width="10"/><path d="M751.0,672.4 L764.4,641.4 L768.0,658.5 L784.0,665.4 Z" fill="#dc2121"/>
<path d="M1390.4,207.9 L1387.1,208.1 L1383.9,208.5 L1380.9,209.2 L1378.1,210.1 L1375.5,211.2 L1372.9,212.6 L1370.6,214.1 L1368.3,215.9 L1366.3,217.7 L1364.3,219.8 L1362.5,221.9 L1360.7,224.2 L1359.1,226.6 L1357.6,229.1 L1356.3,231.6 L1355.0,234.2 L1353.8,236.8 L1352.7,239.5 L1351.6,242.2 L1350.7,244.8 L1349.8,247.4 L1349.0,250.0 L1348.3,252.6 L1347.6,255.0 L1347.0,257.4 L1346.1,261.5 L1345.1,265.5 L1344.0,269.5 L1342.7,273.4 L1341.4,277.2 L1339.8,280.9 L1338.2,284.5 L1336.4,288.1 L1334.4,291.6 L1332.3,295.1 L1330.0,298.4 L1327.5,301.8 L1324.9,305.0 L1322.1,308.2 L1319.1,311.3 L1315.8,314.4 L1312.4,317.4 L1308.8,320.4 L1305.0,323.3 L1300.9,326.1 L1296.6,328.9 L1295.5,329.6" fill="none" stroke="#ffa70f" stroke-width="9.5"/><path d="M1277.0,339.7 L1295.2,311.3 L1296.0,328.7 L1310.7,338.1 Z" fill="#ffa70f"/>
<path d="M1169.5,318.6 L1167.0,317.0 L1164.4,315.4 L1161.9,313.9 L1159.3,312.3 L1156.8,310.7 L1154.2,309.1 L1151.7,307.6 L1149.1,306.0 L1146.6,304.4 L1144.0,302.8 L1141.5,301.3 L1138.9,299.7 L1136.4,298.1 L1133.8,296.5 L1131.3,295.0 L1128.7,293.4 L1126.2,291.8 L1123.6,290.2 L1123.0,289.8" fill="none" stroke="#dc2121" stroke-width="10"/><path d="M1105.8,279.2 L1139.5,281.8 L1124.5,290.8 L1123.2,308.2 Z" fill="#dc2121"/>
<path d="M1159.9,394.2 L1157.6,396.2 L1155.3,398.1 L1153.0,400.1 L1150.7,402.1 L1148.4,404.1 L1146.1,406.0 L1143.8,408.0 L1141.5,410.0 L1139.2,411.9 L1136.9,413.9 L1134.6,415.9 L1132.3,417.9 L1130.1,419.8 L1127.8,421.8 L1125.5,423.8 L1123.2,425.8 L1120.9,427.7 L1118.6,429.7 L1118.0,430.2" fill="none" stroke="#009a00" stroke-width="10"/><path d="M1102.5,443.5 L1115.2,412.2 L1119.2,429.2 L1135.4,435.7 Z" fill="#009a00"/>
<path d="M1316.1,561.2 L1317.8,558.9 L1319.5,556.6 L1321.2,554.4 L1322.9,552.1 L1324.6,549.8 L1326.3,547.5 L1328.0,545.3 L1329.7,543.0 L1331.4,540.7 L1333.1,538.4 L1334.8,536.2 L1336.5,533.9 L1338.1,531.6 L1339.8,529.3 L1341.5,527.1 L1343.2,524.8 L1344.9,522.5 L1346.2,520.8" fill="none" stroke="#dc2121" stroke-width="10"/><path d="M1358.5,504.3 L1353.0,537.6 L1345.4,521.9 L1328.1,519.1 Z" fill="#dc2121"/>
<path d="M1340.3,614.9 L1343.4,615.1 L1346.4,615.4 L1349.5,615.6 L1352.5,615.8 L1355.6,616.0 L1358.6,616.3 L1361.7,616.5 L1364.7,616.7 L1367.8,617.0 L1370.9,617.2 L1373.9,617.4 L1377.0,617.6 L1380.0,617.9 L1383.1,618.1 L1386.1,618.3 L1389.2,618.5 L1392.3,618.8 L1395.3,619.0 L1396.1,619.1" fill="none" stroke="#009a00" stroke-width="10"/><path d="M1416.7,620.6 L1385.6,633.8 L1394.8,619.0 L1387.9,602.9 Z" fill="#009a00"/>
<path d="M1575.8,555.0 L1576.7,552.5 L1577.7,550.0 L1578.6,547.4 L1579.6,544.8 L1580.6,542.2 L1581.7,539.6 L1582.7,537.0 L1583.8,534.3 L1584.9,531.6 L1586.1,528.9 L1587.2,526.2 L1588.4,523.4 L1589.6,520.6 L1590.8,517.8 L1592.1,515.0 L1593.3,512.1 L1594.6,509.2 L1595.9,506.3 L1597.0,504.1" fill="none" stroke="#009a00" stroke-width="10"/><path d="M1605.8,485.3 L1607.2,519.0 L1596.5,505.3 L1579.1,506.0 Z" fill="#009a00"/>
<path d="M1842.1,643.5 L1843.8,640.4 L1845.6,637.2 L1847.4,633.9 L1849.3,630.7 L1851.2,627.3 L1853.1,624.0 L1855.1,620.6 L1857.1,617.1 L1859.1,613.6 L1861.2,610.1 L1863.3,606.5 L1865.5,602.8 L1867.7,599.2 L1869.9,595.4 L1872.2,591.7 L1874.5,587.8 L1876.9,584.0 L1879.3,580.1 L1881.7,576.1 L1884.2,572.1 L1886.1,569.1" fill="none" stroke="#ffa70f" stroke-width="10"/><path d="M1897.1,551.5 L1894.4,585.2 L1885.4,570.2 L1868.1,568.7 Z" fill="#ffa70f"/>
<path d="M1611.9,654.1 L1615.2,655.1 L1618.5,656.2 L1621.7,657.2 L1625.0,658.2 L1628.3,659.3 L1631.6,660.3 L1634.9,661.4 L1638.1,662.4 L1641.4,663.4 L1644.7,664.5 L1648.0,665.5 L1651.3,666.5 L1654.5,667.6 L1657.8,668.6 L1661.1,669.6 L1664.4,670.7 L1667.7,671.7 L1670.9,672.7 L1674.2,673.8 L1674.2,673.8" fill="none" stroke="#dc2121" stroke-width="10"/><path d="M1693.9,680.0 L1660.6,685.7 L1672.9,673.4 L1670.0,656.2 Z" fill="#dc2121"/>
<path d="M1058.0,565.6 L1057.8,567.5 L1057.6,569.5 L1057.5,571.6 L1057.5,573.7 L1057.5,575.9 L1057.6,578.2 L1057.8,580.6 L1058.0,583.0 L1058.3,585.5 L1058.6,588.1 L1059.0,590.7 L1059.4,593.4 L1060.0,596.2 L1060.5,599.1 L1061.2,602.0 L1061.9,605.0 L1062.6,608.1 L1063.5,611.2 L1064.3,614.4 L1064.8,616.1" fill="none" stroke="#dc2121" stroke-width="10"/><path d="M1070.9,635.3 L1047.4,611.0 L1064.6,614.2 L1077.1,602.1 Z" fill="#dc2121"/>
<path d="M1166.0,669.0 L1168.3,667.7 L1170.6,666.4 L1172.9,665.2 L1175.2,663.9 L1177.5,662.6 L1179.8,661.3 L1182.0,660.0 L1184.3,658.8 L1186.6,657.5 L1188.9,656.2 L1191.2,654.9 L1193.5,653.6 L1195.8,652.4 L1198.1,651.1 L1200.4,649.8 L1202.7,648.5 L1205.0,647.2 L1205.5,646.9" fill="none" stroke="#009a00" stroke-width="10"/><path d="M1223.3,637.0 L1204.7,665.2 L1204.1,647.7 L1189.6,638.1 Z" fill="#009a00"/>
<path d="M1062.4,744.9 L1061.3,747.3 L1060.2,749.7 L1059.1,752.2 L1058.0,754.7 L1057.0,757.2 L1055.9,759.8 L1054.9,762.4 L1054.0,765.0 L1053.0,767.7 L1052.1,770.4 L1051.2,773.1 L1050.3,775.9 L1049.5,778.7 L1048.6,781.5 L1047.8,784.4 L1047.1,787.3 L1046.3,790.2 L1045.6,793.2 L1045.2,794.7" fill="none" stroke="#dc2121" stroke-width="10"/><path d="M1041.1,814.8 L1032.4,782.2 L1045.8,793.3 L1062.7,788.8 Z" fill="#dc2121"/>
<path d="M1037.2,912.4 L1037.1,914.9 L1037.1,917.6 L1037.2,920.3 L1037.3,923.1 L1037.5,925.9 L1037.8,928.9 L1038.1,931.9 L1038.5,935.0 L1038.9,938.2 L1039.4,941.4 L1040.0,944.7 L1040.7,948.2 L1041.4,951.7 L1042.1,955.2 L1042.9,958.9 L1043.8,962.6 L1044.8,966.4 L1045.8,970.3 L1046.9,974.3 L1048.0,978.4 L1048.6,980.4" fill="none" stroke="#dc2121" stroke-width="10"/><path d="M1054.7,999.8 L1031.2,975.6 L1048.3,978.7 L1060.9,966.6 Z" fill="#dc2121"/>
<path d="M1006.0,1037.8 L1003.0,1037.2 L999.9,1036.6 L996.9,1036.0 L993.9,1035.5 L990.8,1035.1 L987.8,1034.7 L984.7,1034.3 L981.7,1034.0 L978.7,1033.7 L975.6,1033.5 L972.6,1033.4 L969.5,1033.2 L966.5,1033.2 L963.4,1033.1 L960.4,1033.2 L957.3,1033.2 L954.3,1033.4 L951.2,1033.5 L949.7,1033.6" fill="none" stroke="#ffa70f" stroke-width="10"/><path d="M929.8,1036.0 L958.2,1017.8 L951.7,1034.0 L961.1,1048.7 Z" fill="#ffa70f"/>
<path d="M606.1,737.9 L602.5,738.4 L599.0,738.9 L595.4,739.5 L591.9,740.2 L588.4,740.8 L584.9,741.6 L581.4,742.3 L577.9,743.2 L574.5,744.0 L571.0,744.9 L567.5,745.9 L564.1,746.9 L560.7,747.9 L557.3,749.0 L553.9,750.2 L550.5,751.4 L547.1,752.6 L543.7,753.9 L540.4,755.2 L539.6,755.5" fill="none" stroke="#009a00" stroke-width="10"/><path d="M520.5,764.1 L542.0,738.0 L540.7,755.4 L554.2,766.5 Z" fill="#009a00"/>
<path d="M462.1,749.7 L462.4,747.6 L462.6,745.4 L462.7,743.1 L462.8,740.6 L462.7,738.1 L462.6,735.4 L462.4,732.5 L462.1,729.6 L461.7,726.5 L461.2,723.3 L460.6,720.0 L460.0,716.6 L459.2,713.0 L458.4,709.3 L457.5,705.5 L456.4,701.6 L455.3,697.5 L454.2,693.3 L452.9,689.0 L451.5,684.6 L450.1,680.0 L450.1,680.0" fill="none" stroke="#009a00" stroke-width="10"/><path d="M443.4,660.6 L467.6,684.2 L450.3,681.5 L438.2,694.0 Z" fill="#009a00"/>
<path d="M428.2,837.4 L427.0,840.3 L425.8,843.3 L424.7,846.2 L423.5,849.2 L422.4,852.2 L421.3,855.2 L420.3,858.2 L419.3,861.2 L418.2,864.2 L417.3,867.3 L416.3,870.3 L415.4,873.4 L414.4,876.4 L413.6,879.5 L412.7,882.6 L411.9,885.7 L411.0,888.8 L410.3,891.9 L409.7,894.3" fill="none" stroke="#dc2121" stroke-width="10"/><path d="M405.4,914.1 L397.0,881.4 L410.3,892.7 L427.2,888.3 Z" fill="#dc2121"/>
<path d="M731.0,784.8 L732.1,786.3 L733.2,787.8 L734.3,789.3 L735.4,790.8 L736.5,792.3 L737.6,793.8 L738.7,795.3 L739.8,796.8 L740.9,798.3 L742.0,799.8 L743.1,801.3 L744.2,802.8 L745.3,804.3 L746.4,805.8 L746.4,805.8" fill="none" stroke="#dc2121" stroke-width="10"/><path d="M758.5,822.3 L728.3,807.3 L745.5,804.6 L753.3,788.9 Z" fill="#dc2121"/>
<path d="M743.3,888.6 L740.8,890.2 L738.3,891.8 L735.7,893.5 L733.1,895.2 L730.5,897.0 L727.9,898.8 L725.2,900.7 L722.5,902.6 L719.8,904.6 L717.0,906.7 L714.2,908.8 L711.4,910.9 L708.6,913.1 L705.7,915.4 L702.8,917.7 L699.9,920.0 L696.9,922.4 L693.9,924.9 L690.9,927.4 L687.9,930.0 L687.9,930.0" fill="none" stroke="#009a00" stroke-width="10"/><path d="M672.2,943.6 L684.9,912.3 L688.9,929.3 L705.1,935.8 Z" fill="#009a00"/>
<path d="M805.0,906.1 L805.1,908.0 L805.2,910.0 L805.3,912.2 L805.6,914.5 L805.9,916.9 L806.2,919.5 L806.6,922.3 L807.1,925.2 L807.7,928.2 L808.2,931.4 L808.9,934.7 L809.6,938.1 L810.4,941.7 L811.2,945.5 L812.1,949.3 L813.1,953.4 L814.1,957.5 L815.2,961.8 L816.3,966.3 L817.5,970.9 L818.8,975.6 L818.8,975.6" fill="none" stroke="#dc2121" stroke-width="10"/><path d="M824.4,996.0 L801.6,971.1 L818.6,974.8 L831.5,963.0 Z" fill="#dc2121"/>
<path d="M372.7,614.9 L368.5,614.0 L364.2,613.1 L360.0,612.3 L355.8,611.6 L351.7,610.9 L347.5,610.3 L343.4,609.7 L339.3,609.2 L335.2,608.7 L331.1,608.3 L327.0,607.9 L323.0,607.6 L319.0,607.4 L315.0,607.2 L311.0,607.0 L307.1,607.0 L303.1,606.9 L299.2,606.9 L295.3,607.0 L292.4,607.1" fill="none" stroke="#ffa70f" stroke-width="10"/><path d="M272.3,608.6 L301.4,591.5 L294.3,607.4 L303.1,622.4 Z" fill="#ffa70f"/>
<path d="M1110.0,862.4 L1113.5,862.2 L1117.0,862.0 L1120.5,861.8 L1124.0,861.5 L1127.6,861.1 L1131.2,860.8 L1134.8,860.4 L1138.4,859.9 L1142.0,859.4 L1145.7,858.9 L1149.4,858.3 L1153.1,857.7 L1156.9,857.1 L1160.6,856.4 L1164.4,855.7 L1168.2,854.9 L1172.1,854.1 L1175.9,853.2 L1179.8,852.3 L1183.7,851.4 L1183.7,851.4" fill="none" stroke="#009a00" stroke-width="10"/><path d="M1203.6,846.2 L1178.3,868.6 L1182.3,851.6 L1170.7,838.5 Z" fill="#009a00"/>
<path d="M1261.8,857.4 L1261.1,860.0 L1260.5,862.7 L1259.8,865.4 L1259.3,868.2 L1258.8,871.1 L1258.3,874.1 L1257.8,877.1 L1257.4,880.2 L1257.1,883.4 L1256.7,886.6 L1256.4,889.9 L1256.2,893.3 L1256.0,896.7 L1255.8,900.3 L1255.7,903.8 L1255.7,907.5 L1255.6,911.2 L1255.6,915.0 L1255.7,918.9 L1255.8,922.8 L1255.8,922.8" fill="none" stroke="#ffa70f" stroke-width="10"/><path d="M1256.8,943.6 L1240.1,914.2 L1255.9,921.6 L1271.1,913.0 Z" fill="#ffa70f"/>
<path d="M1339.8,967.3 L1346.0,965.5 L1352.2,963.6 L1358.4,961.5 L1364.6,959.4 L1370.9,957.2 L1377.1,954.9 L1383.4,952.5 L1389.7,950.0 L1395.9,947.4 L1402.2,944.7 L1408.5,941.9 L1414.8,939.0 L1421.2,936.0 L1427.5,932.9 L1433.8,929.7 L1440.2,926.4 L1446.6,923.0 L1452.9,919.5 L1459.3,916.0 L1465.7,912.3 L1472.1,908.5 L1478.6,904.6 L1480.2,903.6" fill="none" stroke="#009a00" stroke-width="10"/><path d="M1497.9,892.4 L1480.7,921.4 L1479.2,904.1 L1464.2,895.2 Z" fill="#009a00"/>
<path d="M1340.3,1009.3 L1345.4,1010.4 L1350.5,1011.5 L1355.6,1012.6 L1360.7,1013.6 L1365.9,1014.5 L1371.1,1015.5 L1376.2,1016.3 L1381.4,1017.1 L1386.6,1017.9 L1391.9,1018.7 L1397.1,1019.3 L1402.4,1020.0 L1407.6,1020.6 L1412.9,1021.1 L1418.2,1021.7 L1423.5,1022.1 L1428.9,1022.5 L1434.2,1022.9 L1439.6,1023.3 L1445.0,1023.5 L1450.4,1023.8 L1451.7,1023.8" fill="none" stroke="#dc2121" stroke-width="10"/><path d="M1472.1,1024.3 L1441.6,1038.9 L1450.1,1023.6 L1442.6,1007.9 Z" fill="#dc2121"/>
<path d="M1622.4,883.6 L1625.5,885.3 L1628.6,886.9 L1631.7,888.5 L1634.9,890.0 L1638.1,891.5 L1641.4,893.0 L1644.8,894.4 L1648.2,895.8 L1651.6,897.1 L1655.1,898.4 L1658.6,899.7 L1662.2,900.9 L1665.8,902.1 L1669.5,903.2 L1673.2,904.3 L1677.0,905.4 L1680.8,906.4 L1684.7,907.4 L1688.6,908.3 L1692.6,909.2 L1692.6,909.2" fill="none" stroke="#ffa70f" stroke-width="10"/><path d="M1713.1,913.1 L1680.6,922.3 L1691.5,908.7 L1686.8,891.9 Z" fill="#ffa70f"/>
</g>
<g opacity="0.999">
<text x="317.4" y="121.2" font-size="46" fill="#000" font-family="Liberation Serif, serif" text-anchor="middle" textLength="257.3" lengthAdjust="spacingAndGlyphs">classification</text>
<text x="239.6" y="773.5" font-size="43.5" fill="#000" font-family="Liberation Serif, serif" text-anchor="middle" textLength="174.3" lengthAdjust="spacingAndGlyphs">clustering</text>
<text x="1499" y="373.7" font-size="43.5" fill="#000" font-family="Liberation Serif, serif" text-anchor="middle" textLength="183.6" lengthAdjust="spacingAndGlyphs">regression</text>
<text x="1804.1" y="1009.8" font-size="43.5" fill="#000" font-family="Liberation Serif, serif" text-anchor="middle" textLength="263.5" lengthAdjust="spacingAndGlyphs">dimensionality</text>
<text x="1803.5" y="1056" font-size="43.5" fill="#000" font-family="Liberation Serif, serif" text-anchor="middle" textLength="169.8" lengthAdjust="spacingAndGlyphs">reduction</text>
<text x="1725.5" y="118.7" font-size="51.5" fill="#000" font-family="Liberation Serif, serif" text-anchor="middle" textLength="246" lengthAdjust="spacingAndGlyphs">scikit-learn</text>
<text x="1842" y="176.9" font-size="51.5" fill="#000" font-family="Liberation Serif, serif" text-anchor="middle" textLength="479" lengthAdjust="spacingAndGlyphs">algorithm cheat-sheet</text>
<text x="554.8" y="131.7" font-size="21.2" fill="#000" font-family="Liberation Serif, serif" text-anchor="middle" textLength="56.2" lengthAdjust="spacingAndGlyphs">kernel</text>
<text x="554.7" y="154.9" font-size="21.2" fill="#000" font-family="Liberation Serif, serif" text-anchor="middle" textLength="132.4" lengthAdjust="spacingAndGlyphs">approximation</text>
<text x="272.7" y="182.9" font-size="20.2" fill="#000" font-family="Liberation Serif, serif" text-anchor="middle" textLength="33" lengthAdjust="spacingAndGlyphs">SVC</text>
<text x="272.8" y="224.8" font-size="20.2" fill="#000" font-family="Liberation Serif, serif" text-anchor="middle" textLength="85.7" lengthAdjust="spacingAndGlyphs">Ensemble</text>
<text x="272.2" y="244.3" font-size="20.2" fill="#000" font-family="Liberation Serif, serif" text-anchor="middle" textLength="89.4" lengthAdjust="spacingAndGlyphs">Classifiers</text>
<text x="509" y="253.1" font-size="19.9" fill="#000" font-family="Liberation Serif, serif" text-anchor="middle" textLength="103.6" lengthAdjust="spacingAndGlyphs">KNeighbors</text>
<text x="509" y="276.3" font-size="19.9" fill="#000" font-family="Liberation Serif, serif" text-anchor="middle" textLength="81.2" lengthAdjust="spacingAndGlyphs">Classifier</text>
<text x="747.6" y="238.2" font-size="19.9" fill="#000" font-family="Liberation Serif, serif" text-anchor="middle" textLength="36.2" lengthAdjust="spacingAndGlyphs">SGD</text>
<text x="748.1" y="261.2" font-size="19.9" fill="#000" font-family="Liberation Serif, serif" text-anchor="middle" textLength="81.2" lengthAdjust="spacingAndGlyphs">Classifier</text>
<text x="244.7" y="370.7" font-size="19.9" fill="#000" font-family="Liberation Serif, serif" text-anchor="middle" textLength="50.4" lengthAdjust="spacingAndGlyphs">Naive</text>
<text x="244.7" y="393.7" font-size="19.9" fill="#000" font-family="Liberation Serif, serif" text-anchor="middle" textLength="50" lengthAdjust="spacingAndGlyphs">Bayes</text>
<text x="462.8" y="416.9" font-size="19.9" fill="#000" font-family="Liberation Serif, serif" text-anchor="middle" textLength="37.7" lengthAdjust="spacingAndGlyphs">Text</text>
<text x="462.8" y="440.4" font-size="19.9" fill="#000" font-family="Liberation Serif, serif" text-anchor="middle" textLength="39.7" lengthAdjust="spacingAndGlyphs">Data</text>
<text x="650.8" y="451.1" font-size="19.9" fill="#000" font-family="Liberation Serif, serif" text-anchor="middle" textLength="57.4" lengthAdjust="spacingAndGlyphs">Linear</text>
<text x="650.8" y="474.3" font-size="19.9" fill="#000" font-family="Liberation Serif, serif" text-anchor="middle" textLength="33.5" lengthAdjust="spacingAndGlyphs">SVC</text>
<text x="828.4" y="416" font-size="29.5" fill="#000" font-family="Liberation Serif, serif" text-anchor="middle" textLength="74.4" lengthAdjust="spacingAndGlyphs">&lt;100K</text>
<text x="827.7" y="436.2" font-size="14.6" fill="#000" font-family="Liberation Serif, serif" text-anchor="middle" textLength="50" lengthAdjust="spacingAndGlyphs">samples</text>
<text x="874.9" y="565.6" font-size="14.6" fill="#000" font-family="Liberation Serif, serif" text-anchor="middle" textLength="74.9" lengthAdjust="spacingAndGlyphs">do you have</text>
<text x="874.4" y="594.1" font-size="29.5" fill="#000" font-family="Liberation Serif, serif" text-anchor="middle" textLength="89.9" lengthAdjust="spacingAndGlyphs">labeled</text>
<text x="874.6" y="626.8" font-size="29.5" fill="#000" font-family="Liberation Serif, serif" text-anchor="middle" textLength="52" lengthAdjust="spacingAndGlyphs">data</text>
<text x="1043.8" y="231.9" font-size="14.6" fill="#000" font-family="Liberation Serif, serif" text-anchor="middle" textLength="18.2" lengthAdjust="spacingAndGlyphs">get</text>
<text x="1044" y="260.7" font-size="29.5" fill="#000" font-family="Liberation Serif, serif" text-anchor="middle" textLength="63.7" lengthAdjust="spacingAndGlyphs">more</text>
<text x="1043.6" y="293.6" font-size="29.5" fill="#000" font-family="Liberation Serif, serif" text-anchor="middle" textLength="52" lengthAdjust="spacingAndGlyphs">data</text>
<text x="1215.3" y="363.7" font-size="29.5" fill="#000" font-family="Liberation Serif, serif" text-anchor="middle" textLength="41.7" lengthAdjust="spacingAndGlyphs">&gt;50</text>
<text x="1215.2" y="382.9" font-size="14.6" fill="#000" font-family="Liberation Serif, serif" text-anchor="middle" textLength="49.5" lengthAdjust="spacingAndGlyphs">samples</text>
<text x="1061.8" y="480.7" font-size="14.6" fill="#000" font-family="Liberation Serif, serif" text-anchor="middle" textLength="73.2" lengthAdjust="spacingAndGlyphs">predicting a</text>
<text x="1062.2" y="508.7" font-size="29.5" fill="#000" font-family="Liberation Serif, serif" text-anchor="middle" textLength="104.9" lengthAdjust="spacingAndGlyphs">category</text>
<text x="1096.1" y="678.7" font-size="14.6" fill="#000" font-family="Liberation Serif, serif" text-anchor="middle" textLength="73.4" lengthAdjust="spacingAndGlyphs">predicting a</text>
<text x="1096.7" y="706.2" font-size="29.5" fill="#000" font-family="Liberation Serif, serif" text-anchor="middle" textLength="103.6" lengthAdjust="spacingAndGlyphs">quantity</text>
<text x="1039.7" y="848.7" font-size="14.6" fill="#000" font-family="Liberation Serif, serif" text-anchor="middle" textLength="22" lengthAdjust="spacingAndGlyphs">just</text>
<text x="1039.7" y="877.4" font-size="29.5" fill="#000" font-family="Liberation Serif, serif" text-anchor="middle" textLength="91.4" lengthAdjust="spacingAndGlyphs">looking</text>
<text x="1083.2" y="1041.8" font-size="14.6" fill="#000" font-family="Liberation Serif, serif" text-anchor="middle" textLength="63" lengthAdjust="spacingAndGlyphs">predicting</text>
<text x="1083.1" y="1070.5" font-size="29.5" fill="#000" font-family="Liberation Serif, serif" text-anchor="middle" textLength="112.9" lengthAdjust="spacingAndGlyphs">structure</text>
<text x="855.3" y="1043.5" font-size="29.5" fill="#000" font-family="Liberation Serif, serif" text-anchor="middle" textLength="69.2" lengthAdjust="spacingAndGlyphs">tough</text>
<text x="855.5" y="1076" font-size="29.5" fill="#000" font-family="Liberation Serif, serif" text-anchor="middle" textLength="52.2" lengthAdjust="spacingAndGlyphs">luck</text>
<text x="207" y="594.9" font-size="20.2" fill="#000" font-family="Liberation Serif, serif" text-anchor="middle" textLength="71.7" lengthAdjust="spacingAndGlyphs">Spectral</text>
<text x="206.9" y="618.6" font-size="20.2" fill="#000" font-family="Liberation Serif, serif" text-anchor="middle" textLength="89.9" lengthAdjust="spacingAndGlyphs">Clustering</text>
<text x="204.6" y="661.8" font-size="20.2" fill="#000" font-family="Liberation Serif, serif" text-anchor="middle" textLength="47" lengthAdjust="spacingAndGlyphs">GMM</text>
<text x="427.4" y="635.4" font-size="20.2" fill="#000" font-family="Liberation Serif, serif" text-anchor="middle" textLength="70.4" lengthAdjust="spacingAndGlyphs">KMeans</text>
<text x="706.4" y="708.6" font-size="20.4" fill="#000" font-family="Liberation Serif, serif" text-anchor="middle" textLength="94.2" lengthAdjust="spacingAndGlyphs">number of</text>
<text x="706" y="731.9" font-size="20.4" fill="#000" font-family="Liberation Serif, serif" text-anchor="middle" textLength="88.9" lengthAdjust="spacingAndGlyphs">categories</text>
<text x="705.8" y="755.3" font-size="20.4" fill="#000" font-family="Liberation Serif, serif" text-anchor="middle" textLength="60.4" lengthAdjust="spacingAndGlyphs">known</text>
<text x="452.4" y="795.9" font-size="29.5" fill="#000" font-family="Liberation Serif, serif" text-anchor="middle" textLength="60.4" lengthAdjust="spacingAndGlyphs">&lt;10K</text>
<text x="452.4" y="815" font-size="14.6" fill="#000" font-family="Liberation Serif, serif" text-anchor="middle" textLength="50" lengthAdjust="spacingAndGlyphs">samples</text>
<text x="804.5" y="863.7" font-size="29.5" fill="#000" font-family="Liberation Serif, serif" text-anchor="middle" textLength="60" lengthAdjust="spacingAndGlyphs">&lt;10K</text>
<text x="803.8" y="884" font-size="14.6" fill="#000" font-family="Liberation Serif, serif" text-anchor="middle" textLength="50" lengthAdjust="spacingAndGlyphs">samples</text>
<text x="403.3" y="949.8" font-size="20.2" fill="#000" font-family="Liberation Serif, serif" text-anchor="middle" textLength="90.7" lengthAdjust="spacingAndGlyphs">MiniBatch</text>
<text x="403.7" y="973.6" font-size="20.2" fill="#000" font-family="Liberation Serif, serif" text-anchor="middle" textLength="70.9" lengthAdjust="spacingAndGlyphs">KMeans</text>
<text x="624.5" y="973.6" font-size="20.2" fill="#000" font-family="Liberation Serif, serif" text-anchor="middle" textLength="90.4" lengthAdjust="spacingAndGlyphs">MeanShift</text>
<text x="623.1" y="1019.8" font-size="20.2" fill="#000" font-family="Liberation Serif, serif" text-anchor="middle" textLength="71.7" lengthAdjust="spacingAndGlyphs">VBGMM</text>
<text x="1376" y="455.3" font-size="20.3" fill="#000" font-family="Liberation Serif, serif" text-anchor="middle" textLength="36" lengthAdjust="spacingAndGlyphs">SGD</text>
<text x="1376.4" y="479.1" font-size="20.3" fill="#000" font-family="Liberation Serif, serif" text-anchor="middle" textLength="86.7" lengthAdjust="spacingAndGlyphs">Regressor</text>
<text x="1614.9" y="431.1" font-size="20.3" fill="#000" font-family="Liberation Serif, serif" text-anchor="middle" textLength="48.2" lengthAdjust="spacingAndGlyphs">Lasso</text>
<text x="1617.5" y="467.3" font-size="20.3" fill="#000" font-family="Liberation Serif, serif" text-anchor="middle" textLength="87.4" lengthAdjust="spacingAndGlyphs">ElasticNet</text>
<text x="1939.6" y="486.1" font-size="20.3" fill="#000" font-family="Liberation Serif, serif" text-anchor="middle" textLength="151.6" lengthAdjust="spacingAndGlyphs">SVR(kernel='rbf')</text>
<text x="1942.2" y="533.8" font-size="20.3" fill="#000" font-family="Liberation Serif, serif" text-anchor="middle" textLength="181.7" lengthAdjust="spacingAndGlyphs">EnsembleRegressors</text>
<text x="1255.1" y="602.4" font-size="29.5" fill="#000" font-family="Liberation Serif, serif" text-anchor="middle" textLength="75.4" lengthAdjust="spacingAndGlyphs">&lt;100K</text>
<text x="1254.4" y="621.6" font-size="14.6" fill="#000" font-family="Liberation Serif, serif" text-anchor="middle" textLength="50" lengthAdjust="spacingAndGlyphs">samples</text>
<text x="1531.6" y="592.4" font-size="21" fill="#000" font-family="Liberation Serif, serif" text-anchor="middle" textLength="109.9" lengthAdjust="spacingAndGlyphs">few features</text>
<text x="1531.5" y="616.2" font-size="21" fill="#000" font-family="Liberation Serif, serif" text-anchor="middle" textLength="86.2" lengthAdjust="spacingAndGlyphs">should be</text>
<text x="1531.6" y="639.4" font-size="21" fill="#000" font-family="Liberation Serif, serif" text-anchor="middle" textLength="89.9" lengthAdjust="spacingAndGlyphs">important</text>
<text x="1788.9" y="675.3" font-size="20.3" fill="#000" font-family="Liberation Serif, serif" text-anchor="middle" textLength="145" lengthAdjust="spacingAndGlyphs">RidgeRegression</text>
<text x="1795.1" y="720.3" font-size="20.3" fill="#000" font-family="Liberation Serif, serif" text-anchor="middle" textLength="175.9" lengthAdjust="spacingAndGlyphs">SVR(kernel='linear')</text>
<text x="1280.5" y="809.8" font-size="20.4" fill="#000" font-family="Liberation Serif, serif" text-anchor="middle" textLength="110.6" lengthAdjust="spacingAndGlyphs">Randomized</text>
<text x="1280.6" y="833" font-size="20.4" fill="#000" font-family="Liberation Serif, serif" text-anchor="middle" textLength="34.5" lengthAdjust="spacingAndGlyphs">PCA</text>
<text x="1559.5" y="828.2" font-size="20.3" fill="#000" font-family="Liberation Serif, serif" text-anchor="middle" textLength="63.9" lengthAdjust="spacingAndGlyphs">Isomap</text>
<text x="1560.9" y="874.9" font-size="20.3" fill="#000" font-family="Liberation Serif, serif" text-anchor="middle" textLength="71.2" lengthAdjust="spacingAndGlyphs">Spectral</text>
<text x="1561.1" y="897.9" font-size="20.3" fill="#000" font-family="Liberation Serif, serif" text-anchor="middle" textLength="100.4" lengthAdjust="spacingAndGlyphs">Embedding</text>
<text x="1770" y="923.1" font-size="20.3" fill="#000" font-family="Liberation Serif, serif" text-anchor="middle" textLength="34.5" lengthAdjust="spacingAndGlyphs">LLE</text>
<text x="1558.3" y="1012.8" font-size="21.2" fill="#000" font-family="Liberation Serif, serif" text-anchor="middle" textLength="56.4" lengthAdjust="spacingAndGlyphs">kernel</text>
<text x="1558" y="1036" font-size="21.2" fill="#000" font-family="Liberation Serif, serif" text-anchor="middle" textLength="131.9" lengthAdjust="spacingAndGlyphs">approximation</text>
<text x="1263.8" y="988.5" font-size="29.5" fill="#000" font-family="Liberation Serif, serif" text-anchor="middle" textLength="59.4" lengthAdjust="spacingAndGlyphs">&lt;10K</text>
<text x="1263" y="1008.5" font-size="14.6" fill="#000" font-family="Liberation Serif, serif" text-anchor="middle" textLength="49.7" lengthAdjust="spacingAndGlyphs">samples</text>
<text x="1466.7" y="208.9" font-size="39.4" fill="#000" font-family="Liberation Serif, serif" text-anchor="middle" textLength="112.1" lengthAdjust="spacingAndGlyphs">START</text>
<text x="101.3" y="1152.2" font-size="33" fill="#000" font-family="Liberation Sans, sans-serif" text-anchor="middle" font-style="italic" stroke="#000" stroke-width="0.6" textLength="66.9" lengthAdjust="spacingAndGlyphs">Back</text>
<text x="724.6" y="164.5" font-size="13.4" fill="#a5562c" font-family="Liberation Sans, sans-serif" text-anchor="middle" font-weight="bold" textLength="27.5" lengthAdjust="spacingAndGlyphs">NOT</text>
<text x="724.6" y="181.9" font-size="13.4" fill="#a5562c" font-family="Liberation Sans, sans-serif" text-anchor="middle" font-weight="bold" textLength="66.5" lengthAdjust="spacingAndGlyphs">WORKING</text>
<text x="387.3" y="244.8" font-size="13.4" fill="#a5562c" font-family="Liberation Sans, sans-serif" text-anchor="middle" font-weight="bold" textLength="27.5" lengthAdjust="spacingAndGlyphs">NOT</text>
<text x="387.3" y="262.2" font-size="13.4" fill="#a5562c" font-family="Liberation Sans, sans-serif" text-anchor="middle" font-weight="bold" textLength="66.5" lengthAdjust="spacingAndGlyphs">WORKING</text>
<text x="587.7" y="387.9" font-size="13.4" fill="#a5562c" font-family="Liberation Sans, sans-serif" text-anchor="middle" font-weight="bold" textLength="27.5" lengthAdjust="spacingAndGlyphs">NOT</text>
<text x="587.7" y="405.29999999999995" font-size="13.4" fill="#a5562c" font-family="Liberation Sans, sans-serif" text-anchor="middle" font-weight="bold" textLength="66.5" lengthAdjust="spacingAndGlyphs">WORKING</text>
<text x="327.7" y="571.9" font-size="13.4" fill="#a5562c" font-family="Liberation Sans, sans-serif" text-anchor="middle" font-weight="bold" textLength="27.5" lengthAdjust="spacingAndGlyphs">NOT</text>
<text x="327.7" y="589.3" font-size="13.4" fill="#a5562c" font-family="Liberation Sans, sans-serif" text-anchor="middle" font-weight="bold" textLength="66.5" lengthAdjust="spacingAndGlyphs">WORKING</text>
<text x="1813.8" y="603.9" font-size="13.4" fill="#a5562c" font-family="Liberation Sans, sans-serif" text-anchor="middle" font-weight="bold" textLength="27.5" lengthAdjust="spacingAndGlyphs">NOT</text>
<text x="1813.8" y="621.3" font-size="13.4" fill="#a5562c" font-family="Liberation Sans, sans-serif" text-anchor="middle" font-weight="bold" textLength="66.5" lengthAdjust="spacingAndGlyphs">WORKING</text>
<text x="1310.5" y="881.6" font-size="13.4" fill="#a5562c" font-family="Liberation Sans, sans-serif" text-anchor="middle" font-weight="bold" textLength="27.5" lengthAdjust="spacingAndGlyphs">NOT</text>
<text x="1310.5" y="899.0" font-size="13.4" fill="#a5562c" font-family="Liberation Sans, sans-serif" text-anchor="middle" font-weight="bold" textLength="66.5" lengthAdjust="spacingAndGlyphs">WORKING</text>
<text x="1636.2" y="919.9" font-size="13.4" fill="#a5562c" font-family="Liberation Sans, sans-serif" text-anchor="middle" font-weight="bold" textLength="27.5" lengthAdjust="spacingAndGlyphs">NOT</text>
<text x="1636.2" y="937.3" font-size="13.4" fill="#a5562c" font-family="Liberation Sans, sans-serif" text-anchor="middle" font-weight="bold" textLength="66.5" lengthAdjust="spacingAndGlyphs">WORKING</text>
<text x="837.9" y="336.8" font-size="13.4" fill="#dc2121" font-family="Liberation Sans, sans-serif" text-anchor="middle" font-weight="bold" textLength="20" lengthAdjust="spacingAndGlyphs">NO</text>
<text x="517.2" y="378.2" font-size="13.4" fill="#dc2121" font-family="Liberation Sans, sans-serif" text-anchor="middle" font-weight="bold" textLength="20" lengthAdjust="spacingAndGlyphs">NO</text>
<text x="390.8" y="374.9" font-size="13.4" fill="#009a00" font-family="Liberation Sans, sans-serif" text-anchor="middle" font-weight="bold" textLength="23" lengthAdjust="spacingAndGlyphs">YES</text>
<text x="737" y="403" font-size="13.4" fill="#009a00" font-family="Liberation Sans, sans-serif" text-anchor="middle" font-weight="bold" textLength="23" lengthAdjust="spacingAndGlyphs">YES</text>
<text x="845.7" y="530.1" font-size="13.4" fill="#009a00" font-family="Liberation Sans, sans-serif" text-anchor="middle" font-weight="bold" textLength="23" lengthAdjust="spacingAndGlyphs">YES</text>
<text x="961.3" y="511.4" font-size="13.4" fill="#009a00" font-family="Liberation Sans, sans-serif" text-anchor="middle" font-weight="bold" textLength="23" lengthAdjust="spacingAndGlyphs">YES</text>
<text x="777" y="626" font-size="13.4" fill="#dc2121" font-family="Liberation Sans, sans-serif" text-anchor="middle" font-weight="bold" textLength="20" lengthAdjust="spacingAndGlyphs">NO</text>
<text x="1173.3" y="296.9" font-size="13.4" fill="#dc2121" font-family="Liberation Sans, sans-serif" text-anchor="middle" font-weight="bold" textLength="20" lengthAdjust="spacingAndGlyphs">NO</text>
<text x="1126.1" y="387.8" font-size="13.4" fill="#009a00" font-family="Liberation Sans, sans-serif" text-anchor="middle" font-weight="bold" textLength="23" lengthAdjust="spacingAndGlyphs">YES</text>
<text x="1034" y="587.3" font-size="13.4" fill="#dc2121" font-family="Liberation Sans, sans-serif" text-anchor="middle" font-weight="bold" textLength="20" lengthAdjust="spacingAndGlyphs">NO</text>
<text x="1156.3" y="643.6" font-size="13.4" fill="#009a00" font-family="Liberation Sans, sans-serif" text-anchor="middle" font-weight="bold" textLength="23" lengthAdjust="spacingAndGlyphs">YES</text>
<text x="1032.9" y="754.9" font-size="13.4" fill="#dc2121" font-family="Liberation Sans, sans-serif" text-anchor="middle" font-weight="bold" textLength="20" lengthAdjust="spacingAndGlyphs">NO</text>
<text x="1013.5" y="930.4" font-size="13.4" fill="#dc2121" font-family="Liberation Sans, sans-serif" text-anchor="middle" font-weight="bold" textLength="20" lengthAdjust="spacingAndGlyphs">NO</text>
<text x="1305.6" y="550.5" font-size="13.4" fill="#dc2121" font-family="Liberation Sans, sans-serif" text-anchor="middle" font-weight="bold" textLength="20" lengthAdjust="spacingAndGlyphs">NO</text>
<text x="1364" y="606.2" font-size="13.4" fill="#009a00" font-family="Liberation Sans, sans-serif" text-anchor="middle" font-weight="bold" textLength="23" lengthAdjust="spacingAndGlyphs">YES</text>
<text x="1614.8" y="538.3" font-size="13.4" fill="#009a00" font-family="Liberation Sans, sans-serif" text-anchor="middle" font-weight="bold" textLength="23" lengthAdjust="spacingAndGlyphs">YES</text>
<text x="1618.2" y="681.8" font-size="13.4" fill="#dc2121" font-family="Liberation Sans, sans-serif" text-anchor="middle" font-weight="bold" textLength="20" lengthAdjust="spacingAndGlyphs">NO</text>
<text x="575" y="724.6" font-size="13.4" fill="#009a00" font-family="Liberation Sans, sans-serif" text-anchor="middle" font-weight="bold" textLength="23" lengthAdjust="spacingAndGlyphs">YES</text>
<text x="486.6" y="736.8" font-size="13.4" fill="#009a00" font-family="Liberation Sans, sans-serif" text-anchor="middle" font-weight="bold" textLength="23" lengthAdjust="spacingAndGlyphs">YES</text>
<text x="395.7" y="853.2" font-size="13.4" fill="#dc2121" font-family="Liberation Sans, sans-serif" text-anchor="middle" font-weight="bold" textLength="20" lengthAdjust="spacingAndGlyphs">NO</text>
<text x="707.4" y="808" font-size="13.4" fill="#dc2121" font-family="Liberation Sans, sans-serif" text-anchor="middle" font-weight="bold" textLength="20" lengthAdjust="spacingAndGlyphs">NO</text>
<text x="699" y="891.3" font-size="13.4" fill="#009a00" font-family="Liberation Sans, sans-serif" text-anchor="middle" font-weight="bold" textLength="23" lengthAdjust="spacingAndGlyphs">YES</text>
<text x="783.2" y="927.2" font-size="13.4" fill="#dc2121" font-family="Liberation Sans, sans-serif" text-anchor="middle" font-weight="bold" textLength="20" lengthAdjust="spacingAndGlyphs">NO</text>
<text x="1151" y="886.4" font-size="13.4" fill="#009a00" font-family="Liberation Sans, sans-serif" text-anchor="middle" font-weight="bold" textLength="23" lengthAdjust="spacingAndGlyphs">YES</text>
<text x="1339.3" y="950.6" font-size="13.4" fill="#009a00" font-family="Liberation Sans, sans-serif" text-anchor="middle" font-weight="bold" textLength="23" lengthAdjust="spacingAndGlyphs">YES</text>
<text x="1371" y="1003.5" font-size="13.4" fill="#dc2121" font-family="Liberation Sans, sans-serif" text-anchor="middle" font-weight="bold" textLength="20" lengthAdjust="spacingAndGlyphs">NO</text>
</g>
<path d="M32.1,1236.5 C32.0,1233.2 32.1,1229.7 32.8,1226.4 C33.5,1223.1 34.5,1219.6 36.1,1216.7 C37.6,1213.7 39.7,1210.8 42.1,1208.4 C44.5,1206.1 47.5,1204.1 50.5,1202.5 C53.6,1201.0 56.9,1199.9 60.2,1199.0 C63.5,1198.2 66.9,1197.6 70.2,1197.4 C73.6,1197.2 77.0,1197.2 80.4,1197.6 C83.7,1198.0 87.2,1198.8 90.5,1199.8 C93.8,1200.8 97.1,1202.1 100.2,1203.5 C103.3,1204.9 106.4,1206.5 109.3,1208.1 C112.2,1209.8 115.0,1211.6 117.7,1213.6 C120.4,1215.7 123.0,1217.9 125.3,1220.5 C127.6,1223.1 129.8,1226.0 131.5,1229.0 C133.2,1232.0 134.5,1235.3 135.5,1238.5 C136.6,1241.7 137.2,1244.9 137.7,1248.2 C138.3,1251.4 138.6,1254.7 138.9,1258.2 C139.2,1261.6 139.5,1265.4 139.4,1268.9 C139.2,1272.4 139.0,1276.2 137.9,1279.3 C136.8,1282.4 135.2,1285.2 133.0,1287.3 C130.7,1289.4 127.7,1290.7 124.5,1291.7 C121.4,1292.7 117.6,1293.0 114.1,1293.4 C110.7,1293.8 107.0,1293.9 103.6,1294.0 C100.2,1294.2 96.8,1294.4 93.5,1294.2 C90.1,1294.1 86.9,1293.8 83.6,1293.1 C80.3,1292.4 76.9,1291.3 73.7,1290.1 C70.5,1288.8 67.3,1287.1 64.3,1285.4 C61.3,1283.7 58.4,1281.9 55.7,1279.9 C53.0,1277.9 50.4,1275.8 48.0,1273.4 C45.7,1271.0 43.4,1268.4 41.5,1265.5 C39.6,1262.7 37.9,1259.5 36.5,1256.4 C35.2,1253.2 34.1,1249.9 33.4,1246.6 C32.6,1243.3 32.2,1239.9 32.1,1236.5 Z" fill="#3499cd"/>
<path d="M145.1,1230.5 C145.3,1224.7 145.7,1219.0 146.5,1213.3 C147.3,1207.6 148.3,1201.8 150.0,1196.2 C151.6,1190.6 153.8,1184.9 156.5,1179.7 C159.3,1174.5 162.8,1169.5 166.6,1165.2 C170.5,1160.8 175.0,1156.9 179.6,1153.5 C184.3,1150.1 189.5,1147.3 194.7,1144.7 C200.0,1142.1 205.5,1139.9 211.1,1138.0 C216.6,1136.1 222.4,1134.6 228.1,1133.3 C233.8,1132.1 239.6,1131.3 245.5,1130.8 C251.3,1130.3 257.2,1130.1 263.1,1130.4 C268.9,1130.6 274.9,1131.2 280.6,1132.5 C286.2,1133.8 292.0,1135.5 297.0,1138.2 C302.1,1140.9 307.0,1144.4 311.1,1148.6 C315.1,1152.7 318.7,1157.8 321.4,1163.0 C324.1,1168.2 326.2,1174.0 327.5,1179.7 C328.7,1185.3 329.3,1191.2 329.1,1196.9 C329.0,1202.6 328.1,1208.4 326.7,1214.1 C325.3,1219.7 323.1,1225.4 320.7,1230.8 C318.2,1236.2 315.1,1241.5 311.8,1246.3 C308.5,1251.2 304.8,1255.7 300.8,1259.8 C296.7,1263.9 292.3,1267.6 287.6,1271.0 C282.9,1274.4 277.8,1277.4 272.5,1280.2 C267.2,1282.9 261.6,1285.4 256.0,1287.4 C250.5,1289.4 244.8,1291.0 239.2,1292.2 C233.5,1293.4 227.9,1294.1 222.2,1294.8 C216.4,1295.4 210.6,1295.8 204.6,1295.9 C198.7,1295.9 192.3,1296.1 186.4,1295.3 C180.5,1294.5 174.4,1293.4 169.3,1291.1 C164.2,1288.8 159.5,1285.5 156.0,1281.3 C152.5,1277.2 150.1,1271.7 148.3,1266.2 C146.5,1260.7 145.8,1254.3 145.3,1248.4 C144.8,1242.4 144.9,1236.4 145.1,1230.5 Z" fill="#f89939"/>
<g opacity="0.999">
<text x="251.6" y="1220.4" font-size="24.5" fill="#fff" font-family="Liberation Sans, sans-serif" text-anchor="middle" textLength="62.2" lengthAdjust="spacingAndGlyphs">scikit</text>
</g>
<g transform="translate(160,1195) scale(0.10839)" fill="none" stroke="#000" stroke-linecap="round" stroke-linejoin="round">
<!-- l -->
<path d="M275,175 C320,140 400,130 405,165 C410,230 370,330 320,420 C290,480 250,560 245,610 C245,650 290,640 330,620 C360,600 400,570 425,555 L440,590 C390,630 300,700 220,700 C150,700 130,650 140,580 C160,450 220,270 275,175 Z M348,215 C330,260 305,340 290,415 C320,370 352,300 366,250 C375,215 360,200 348,215 Z" fill="#000" fill-rule="evenodd" stroke="none"/>
<!-- e -->
<path d="M640,470 C625,395 545,400 495,480 C450,560 470,670 560,675 C650,678 740,640 810,585" stroke-width="90"/>
<path d="M470,590 C545,575 625,525 655,450" stroke-width="32"/>
<!-- a -->
<path d="M1105,425 C1060,375 955,395 905,500 C865,600 900,685 960,678 C1020,668 1080,580 1118,445" stroke-width="98"/>
<path d="M1150,400 C1120,480 1085,590 1092,640 C1100,690 1200,650 1260,600" stroke-width="76"/>
<!-- r -->
<path d="M1255,610 C1275,540 1285,460 1285,410" stroke-width="30"/>
<path d="M1285,405 C1340,375 1420,420 1480,395" stroke-width="52"/>
<path d="M1462,410 C1430,500 1390,600 1375,670" stroke-width="88"/>
<path d="M1380,680 C1440,690 1520,650 1560,610" stroke-width="30"/>
<!-- n -->
<path d="M1690,400 C1655,500 1610,600 1585,675" stroke-width="92"/>
<path d="M1640,540 C1690,450 1760,395 1830,400" stroke-width="50"/>
<path d="M1862,410 C1830,500 1790,590 1775,650" stroke-width="90"/>
<path d="M1780,660 C1840,670 1910,630 1945,590" stroke-width="34"/>
</g>

</svg></body></html>
